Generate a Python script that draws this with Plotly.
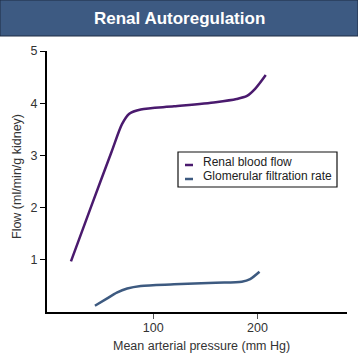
import plotly.graph_objects as go

# Data
rbf_x = [21, 40, 60, 70, 77, 88, 120, 160, 180, 190, 198, 208]
rbf_y = [0.97, 2.0, 3.07, 3.6, 3.8, 3.88, 3.94, 4.02, 4.08, 4.14, 4.28, 4.54]
gfr_x = [44, 55, 65, 75, 88, 120, 160, 185, 193, 202]
gfr_y = [0.12, 0.25, 0.37, 0.45, 0.50, 0.53, 0.56, 0.58, 0.63, 0.77]
series_names = ["Renal blood flow", "Glomerular filtration rate"]
series_colors = ["#4a1a6e", "#3d5a80"]
x_ticks = [100, 200]
y_ticks = [1, 2, 3, 4, 5]
title_text = "Renal Autoregulation"
x_title = "Mean arterial pressure (mm Hg)"
y_title = "Flow (ml/min/g kidney)"

W, H = 358, 354
L, R, T, B = 47, 11, 51, 42
pw, ph = W - L - R, H - T - B

def px_x(p):
    return (p - L) / pw

def px_y(p):
    return (H - B - p) / ph

fig = go.Figure()
fig.add_trace(go.Scatter(x=rbf_x, y=rbf_y, mode="lines", name=series_names[0],
                         line=dict(color=series_colors[0], width=2.5, shape="spline", smoothing=0.8),
                         showlegend=False))
fig.add_trace(go.Scatter(x=gfr_x, y=gfr_y, mode="lines", name=series_names[1],
                         line=dict(color=series_colors[1], width=2.5, shape="spline", smoothing=0.8),
                         showlegend=False))

FONT = "Liberation Sans, Arial"
shapes = []
annotations = []
# Title bar
shapes.append(dict(type="rect", xref="paper", yref="paper",
                   x0=px_x(0), x1=px_x(W), y0=px_y(36), y1=px_y(0),
                   fillcolor="#3d5a82", line=dict(color="#1f2d44", width=1), layer="above"))
annotations.append(dict(text="<b>" + title_text + "</b>", xref="paper", yref="paper",
                        x=px_x(179), y=px_y(18), showarrow=False,
                        font=dict(family=FONT, size=17, color="white"),
                        xanchor="center", yanchor="middle"))
# Axis titles
annotations.append(dict(text=x_title, xref="paper", yref="paper",
                        x=px_x(201), y=px_y(346), showarrow=False,
                        xanchor="center", yanchor="middle",
                        font=dict(family=FONT, size=12.5, color="#333")))
annotations.append(dict(text=y_title, xref="paper", yref="paper",
                        x=px_x(17), y=px_y(177), showarrow=False, textangle=-90,
                        xanchor="center", yanchor="middle",
                        font=dict(family=FONT, size=12.5, color="#333")))
# Manual legend
shapes.append(dict(type="rect", xref="paper", yref="paper",
                   x0=px_x(178), x1=px_x(337), y0=px_y(187), y1=px_y(152),
                   fillcolor="white", line=dict(color="#111", width=1.2), layer="above"))
leg_y_text = [161.5, 175.5]
leg_y_mark = [165, 179]
for i in range(2):
    shapes.append(dict(type="line", xref="paper", yref="paper",
                       x0=px_x(185), x1=px_x(193), y0=px_y(leg_y_mark[i]), y1=px_y(leg_y_mark[i]),
                       line=dict(color=series_colors[i], width=2.5), layer="above"))
    annotations.append(dict(text=series_names[i], xref="paper", yref="paper",
                            x=px_x(201), y=px_y(leg_y_text[i]), showarrow=False,
                            xanchor="left", yanchor="middle",
                            font=dict(family=FONT, size=12, color="#222")))

fig.update_layout(
    width=W, height=H,
    margin=dict(l=L, r=R, t=T, b=B, pad=0),
    paper_bgcolor="white", plot_bgcolor="white",
    shapes=shapes, annotations=annotations,
    font=dict(family=FONT, size=12, color="#333"),
    xaxis=dict(range=[-2, 286], tickvals=x_ticks, ticks="outside", ticklen=5,
               tickcolor="#555", showgrid=False, zeroline=False,
               showline=True, linecolor="black", linewidth=2,
               automargin=False, ticklabelstandoff=-2,
               tickfont=dict(size=12.5, color="#333")),
    yaxis=dict(range=[0, 5], tickvals=y_ticks, ticks="outside", ticklen=5,
               tickcolor="black", showgrid=False, zeroline=False,
               showline=True, linecolor="black", linewidth=2,
               automargin=False,
               tickfont=dict(size=12.5, color="#333")),
)

fig.write_html("out.html")
